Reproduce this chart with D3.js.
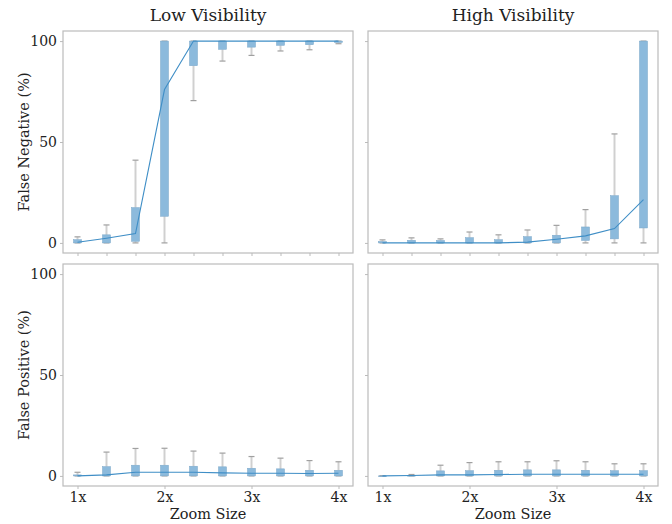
<!DOCTYPE html>
<html><head><meta charset="utf-8">
<script src="https://cdn.jsdelivr.net/npm/d3@7"></script>
<style>body{margin:0;background:#fff}svg{display:block}text{font-family:"DejaVu Serif",serif;fill:#222}</style>
</head><body><svg id="c" width="672" height="524"></svg>
<script>
const zoomLevels = [1, 4/3, 5/3, 2, 7/3, 8/3, 3, 10/3, 11/3, 4];
const xTickValues = [1, 2, 3, 4];
const xTickLabels = ["1x", "2x", "3x", "4x"];
const yTickValues = [0, 50, 100];
const colTitles = ["Low Visibility", "High Visibility"];
const rowLabels = ["False Negative (%)", "False Positive (%)"];

// Low visibility, false negative
const lowFN_lo  = [0, 0, 0, 0, 70.5, 90.1, 92.9, 95.1, 95.7, 98.7];
const lowFN_q1  = [0, 0, 0.8, 13.2, 87.8, 95.9, 97.0, 97.9, 98.2, 99.3];
const lowFN_med = [0.3, 2.3, 4.6, 76, 100, 100, 100, 100, 100, 100];
const lowFN_q3  = [1.6, 4, 17.5, 100, 100, 100, 100, 100, 100, 100];
const lowFN_hi  = [3, 8.9, 41, 100, 100, 100, 100, 100, 100, 100];
// High visibility, false negative
const highFN_lo  = [0, 0, 0, 0, 0, 0, 0, 0, 0, 0];
const highFN_q1  = [0, 0, 0, 0, 0, 0, 0, 1.2, 2, 7.4];
const highFN_med = [0, 0, 0, 0, 0, 0.4, 1.8, 3.5, 7.1, 21.4];
const highFN_q3  = [0.7, 1.3, 1.2, 2.6, 1.6, 3.1, 3.8, 7.9, 23.4, 100];
const highFN_hi  = [1.5, 2.5, 2, 5.4, 4, 6.4, 8.7, 16.5, 54, 100];
// Low visibility, false positive
const lowFP_lo  = [0, 0, 0, 0, 0, 0, 0, 0, 0, 0];
const lowFP_q1  = [0, 0, 0, 0, 0, 0, 0, 0, 0, 0];
const lowFP_med = [0, 0.5, 1.8, 1.8, 1.8, 1.5, 1.3, 1.3, 1.2, 1.3];
const lowFP_q3  = [0.5, 4.6, 5.3, 5.3, 4.8, 4.5, 3.8, 3.5, 2.8, 2.8];
const lowFP_hi  = [1.8, 11.8, 13.6, 13.7, 12.3, 11.3, 9.6, 8.8, 7.6, 7];
// High visibility, false positive
const highFP_lo  = [0, 0, 0, 0, 0, 0, 0, 0, 0, 0];
const highFP_q1  = [0, 0, 0, 0, 0, 0, 0, 0, 0, 0];
const highFP_med = [0, 0.2, 0.5, 0.5, 0.7, 0.8, 0.8, 0.8, 0.8, 0.8];
const highFP_q3  = [0, 0.3, 2.5, 2.6, 2.8, 3, 3, 2.8, 2.6, 2.6];
const highFP_hi  = [0, 0.7, 5.3, 6.6, 7, 7, 7.5, 7, 6, 6];

const panels = [
  {row:0,col:0,lo:lowFN_lo,q1:lowFN_q1,med:lowFN_med,q3:lowFN_q3,hi:lowFN_hi},
  {row:0,col:1,lo:highFN_lo,q1:highFN_q1,med:highFN_med,q3:highFN_q3,hi:highFN_hi},
  {row:1,col:0,lo:lowFP_lo,q1:lowFP_q1,med:lowFP_med,q3:lowFP_q3,hi:lowFP_hi},
  {row:1,col:1,lo:highFP_lo,q1:highFP_q1,med:highFP_med,q3:highFP_q3,hi:highFP_hi}
];

const svg = d3.select("#c");
const colX = [[63, 353], [368, 658]];
const rowY = [[31, 253], [264, 486]];
const boxW = 8;

panels.forEach(p => {
  const [x0, x1] = colX[p.col];
  const [y0, y1] = rowY[p.row];
  const pad = (x1 - x0) * 0.05;
  const x = d3.scaleLinear().domain([1, 4]).range([x0 + pad, x1 - pad]);
  const y = d3.scaleLinear().domain([-5, 105]).range([y1, y0]);
  const g = svg.append("g");

  // axes
  const ya = d3.axisLeft(y).tickValues(yTickValues).tickSize(3).tickPadding(3)
    .tickFormat(p.col === 0 ? d3.format("d") : () => "");
  const yg = g.append("g").attr("transform", `translate(${x0},0)`).call(ya);
  const xa = d3.axisBottom(x).tickSize(3).tickPadding(3);
  if (p.row === 1) xa.tickValues(xTickValues).tickFormat((d, i) => xTickLabels[i]);
  else xa.tickValues(zoomLevels).tickFormat(() => "");
  const xg = g.append("g").attr("transform", `translate(0,${y1})`).call(xa);
  [yg, xg].forEach(a => {
    a.select(".domain").remove();
    a.selectAll(".tick line").attr("stroke", "#bbb");
    a.selectAll(".tick text").attr("font-size", 14).attr("fill", "#222")
      .style("font-family", "DejaVu Serif, serif");
  });
  if (p.row === 1) xg.selectAll(".tick line").attr("stroke", "#bbb");

  g.append("rect").attr("x", x0).attr("y", y0).attr("width", x1 - x0).attr("height", y1 - y0)
    .attr("fill", "none").attr("stroke", "#bbb").attr("stroke-width", 1.2);

  const idx = d3.range(zoomLevels.length);
  // whiskers
  g.selectAll(".wl").data(idx).join("line")
    .attr("x1", i => x(zoomLevels[i])).attr("x2", i => x(zoomLevels[i]))
    .attr("y1", i => y(p.lo[i])).attr("y2", i => y(p.q1[i]))
    .attr("stroke", "#d0d0d0").attr("stroke-width", 2);
  g.selectAll(".wh").data(idx).join("line")
    .attr("x1", i => x(zoomLevels[i])).attr("x2", i => x(zoomLevels[i]))
    .attr("y1", i => y(p.q3[i])).attr("y2", i => y(p.hi[i]))
    .attr("stroke", "#d0d0d0").attr("stroke-width", 2);
  // caps
  ["lo", "hi"].forEach(k => {
    g.selectAll(".cap" + k).data(idx).join("line")
      .attr("x1", i => x(zoomLevels[i]) - 3).attr("x2", i => x(zoomLevels[i]) + 3)
      .attr("y1", i => y(p[k][i])).attr("y2", i => y(p[k][i]))
      .attr("stroke", "#a0a0a0").attr("stroke-width", 1.2);
  });
  // boxes
  g.selectAll(".box").data(idx).join("rect")
    .attr("x", i => x(zoomLevels[i]) - boxW / 2).attr("width", boxW)
    .attr("y", i => y(p.q3[i])).attr("height", i => Math.max(0.8, y(p.q1[i]) - y(p.q3[i])))
    .attr("fill", "#8cbadc").attr("stroke", "#7aa6c8").attr("stroke-width", 0.5);
  // median line
  g.append("path").datum(idx)
    .attr("d", d3.line().x(i => x(zoomLevels[i])).y(i => y(p.med[i])))
    .attr("fill", "none").attr("stroke", "#3f8ec6").attr("stroke-width", 1.1);
});

// titles
colTitles.forEach((t, c) => {
  svg.append("text").attr("x", (colX[c][0] + colX[c][1]) / 2).attr("y", 21)
    .attr("text-anchor", "middle").attr("font-size", 17).text(t);
  svg.append("text").attr("x", (colX[c][0] + colX[c][1]) / 2).attr("y", 519)
    .attr("text-anchor", "middle").attr("font-size", 14.5).text("Zoom Size");
});
rowLabels.forEach((t, r) => {
  const cy = (rowY[r][0] + rowY[r][1]) / 2;
  svg.append("text").attr("transform", `translate(29,${cy}) rotate(-90)`)
    .attr("text-anchor", "middle").attr("font-size", 14.5).text(t);
});
</script></body></html>
